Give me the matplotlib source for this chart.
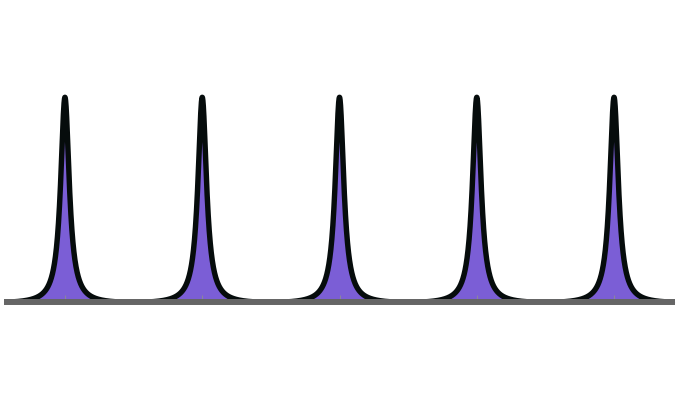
import numpy as np
import matplotlib
matplotlib.use("Agg")
import matplotlib.pyplot as plt

# Peak data (in units of the peak spacing)
peak_centers = [0, 1, 2, 3, 4]
peak_heights = [1.0, 1.0, 1.0, 1.0, 1.0]
peak_hwhm = 0.038          # half width at half maximum
x_range = (-0.444, 4.444)

fig = plt.figure(figsize=(6.8, 4.0), dpi=100)
ax = fig.add_axes([4/680, (400-302.3)/400, 671/680, 0.615])

x = np.linspace(x_range[0], x_range[1], 6000)
# periodic Airy-type profile, normalised so its minimum sits on the baseline
F = 1.0 / (np.pi * peak_hwhm) ** 2
y = np.zeros_like(x)
for c, h in zip(peak_centers, peak_heights):
    local = np.abs(x - c) <= 0.5
    T = 1.0 / (1.0 + F * np.sin(np.pi * (x - c)) ** 2)
    Tmin = 1.0 / (1.0 + F)
    y[local] = np.maximum(y[local], h * (T[local] - Tmin) / (1 - Tmin))

ax.fill_between(x, 0, y, color="#7b5ed6", lw=0, zorder=1)
ax.plot(x, y, color="#060c0c", lw=3.9, solid_capstyle="butt", zorder=2)

ax.set_xlim(*x_range)
ax.set_ylim(0, 1.2)
for s in ["top", "left", "right"]:
    ax.spines[s].set_visible(False)
ax.spines["bottom"].set_color("#666666")
ax.spines["bottom"].set_linewidth(4.3)
ax.spines["bottom"].set_capstyle("butt")
ax.spines["bottom"].set_zorder(3)
ax.set_yticks([])
ax.set_xticks(peak_centers)
ax.set_xticklabels([])
ax.tick_params(axis="x", direction="in", length=5, width=0.8, color="#8a84a0")
ax.patch.set_visible(False)

fig.savefig("out.png", dpi=100)
